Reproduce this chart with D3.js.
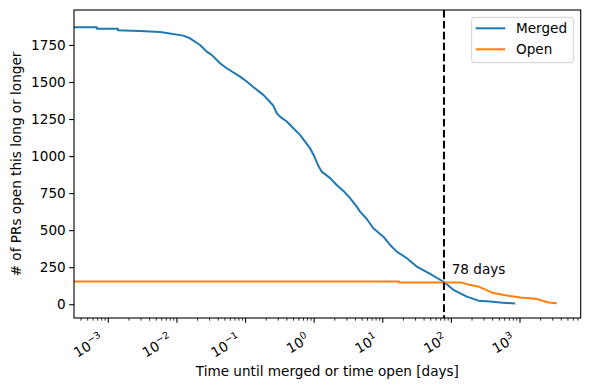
<!DOCTYPE html>
<html>
<head>
<meta charset="utf-8">
<script src="https://cdn.jsdelivr.net/npm/d3@7"></script>
<style>
  body { margin: 0; background: #fff; }
  text { font-family: "DejaVu Sans", sans-serif; fill: #000; }
</style>
</head>
<body>
<script>
// PRs still open after t days

// merged PRs: time until merged (days) and count still open
const mergedDays = [0.0003, 0.00068, 0.00068, 0.00138, 0.00138, 0.0029, 0.00568, 0.0124, 0.0155, 0.0217,
  0.0272, 0.0321, 0.0425, 0.0532, 0.0832, 0.104, 0.146, 0.182, 0.228, 0.254,
  0.285, 0.318, 0.399, 0.498, 0.622, 0.736, 0.871, 1.0, 1.15, 1.29,
  1.71, 2.13, 2.67, 3.34, 4.18, 4.67, 5.85, 7.29, 10.2, 12.8,
  16.0, 22.4, 31.3, 49.0, 78, 107, 168, 248, 366, 513, 849]
const mergedCount = [1870, 1870, 1860, 1860, 1850, 1845, 1838, 1813, 1795, 1750,
  1705, 1683, 1627, 1593, 1536, 1503, 1447, 1413, 1365, 1340,
  1289, 1266, 1233, 1188, 1143, 1098, 1053, 1000, 935, 895,
  851, 805, 765, 716, 659, 625, 575, 513, 456, 400,
  355, 311, 254, 205, 150, 97, 51, 24, 18, 11, 5]

// open PRs: time open so far (days)
const openDays = [0.0003, 17.3, 17.3, 142, 187, 248, 328, 409, 513, 717, 1003, 1403, 1855, 2193, 2594, 3436]
const openCount = [153, 153, 146, 146, 130, 119, 95, 75, 68, 55, 46, 40, 33, 22, 12, 6]

const cutoffDays = 78
const cutoffLabel = "78 days"
const labelAt = [101, 205]

const yTicks = [0, 250, 500, 750, 1000, 1250, 1500, 1750]
const xDecades = [-3, -2, -1, 0, 1, 2, 3]

const W = 590, H = 390
const margin = { top: 10, right: 9.3, bottom: 72, left: 74 }
const width = W - margin.left - margin.right
const height = H - margin.top - margin.bottom

const x = d3.scaleLog().domain([Math.pow(10, -3.5), Math.pow(10, 3.885)]).range([0, width])
const y = d3.scaleLinear().domain([-93, 1986]).range([height, 0])

const svg = d3.select("body").append("svg")
    .attr("width", W)
    .attr("height", H)

const g = svg.append("g")
    .attr("transform", "translate(" + margin.left + "," + margin.top + ")")

g.append("clipPath").attr("id", "clip")
  .append("rect").attr("width", width).attr("height", height)

const line = d3.line()
    .x(d => x(d[0]))
    .y(d => y(d[1]))

const merged = d3.zip(mergedDays, mergedCount)
const open = d3.zip(openDays, openCount)

const plot = g.append("g").attr("clip-path", "url(#clip)")

plot.append("path")
    .datum(merged)
    .attr("d", line)
    .attr("fill", "none")
    .attr("stroke", "#1f77b4")
    .attr("stroke-width", 2)
    .attr("stroke-linejoin", "round")

plot.append("path")
    .datum(open)
    .attr("d", line)
    .attr("fill", "none")
    .attr("stroke", "#ff7f0e")
    .attr("stroke-width", 2)
    .attr("stroke-linejoin", "round")

plot.append("line")
    .attr("x1", x(cutoffDays)).attr("x2", x(cutoffDays))
    .attr("y1", 0).attr("y2", height)
    .attr("stroke", "#000")
    .attr("stroke-width", 2)
    .attr("stroke-dasharray", "7.6,3.3")

g.append("text")
    .attr("x", x(labelAt[0]))
    .attr("y", y(labelAt[1]))
    .attr("font-size", "13.6px")
    .text(cutoffLabel)

// y axis
const yAxis = g.append("g")
    .call(d3.axisLeft(y).tickValues(yTicks).tickSize(4.8).tickPadding(3.5).tickFormat(d3.format("d")))
yAxis.select(".domain").remove()
yAxis.selectAll("line").attr("stroke-width", 1.1)
yAxis.selectAll("text").attr("font-size", "13.6px").attr("font-family", "DejaVu Sans")

// x axis, major + minor log ticks
const minor = []
for (let e = -4; e <= 3; e++) {
  for (let m = 2; m <= 9; m++) {
    const v = m * Math.pow(10, e)
    if (v >= x.domain()[0] && v <= x.domain()[1]) minor.push(v)
  }
}
const xAxis = g.append("g").attr("transform", "translate(0," + height + ")")
xAxis.selectAll(".major").data(xDecades).enter().append("line")
    .attr("x1", d => x(Math.pow(10, d))).attr("x2", d => x(Math.pow(10, d)))
    .attr("y1", 0).attr("y2", 4.8)
    .attr("stroke", "#000").attr("stroke-width", 1.1)
xAxis.selectAll(".minor").data(minor).enter().append("line")
    .attr("x1", d => x(d)).attr("x2", d => x(d))
    .attr("y1", 0).attr("y2", 2.7)
    .attr("stroke", "#000").attr("stroke-width", 0.8)

const lab = xAxis.selectAll(".lab").data(xDecades).enter().append("text")
    .attr("text-anchor", "end")
    .attr("font-size", "13.6px")
    .attr("transform", d => "translate(" + (x(Math.pow(10, d)) - 4) + ",24) rotate(-30)")
lab.append("tspan").text("10")
lab.append("tspan").attr("font-size", "9.5px").attr("dy", "-6")
    .text(d => d < 0 ? "\u2212" + (-d) : String(d))

// frame
g.append("rect")
    .attr("width", width).attr("height", height)
    .attr("fill", "none").attr("stroke", "#000").attr("stroke-width", 1.1)

// axis labels
svg.append("text")
    .attr("x", margin.left + width / 2)
    .attr("y", 376)
    .attr("text-anchor", "middle")
    .attr("font-size", "13.6px")
    .text("Time until merged or time open [days]")

svg.append("text")
    .attr("transform", "translate(21," + (margin.top + height / 2) + ") rotate(-90)")
    .attr("text-anchor", "middle")
    .attr("font-size", "13.6px")
    .text("# of PRs open this long or longer")

// legend
const legend = svg.append("g").attr("transform", "translate(471.7,17.3)")
legend.append("rect")
    .attr("width", 101.6).attr("height", 45.4)
    .attr("rx", 2.5)
    .attr("fill", "#fff").attr("fill-opacity", 0.8)
    .attr("stroke", "#d0d0d0")
const items = [["Merged", "#1f77b4"], ["Open", "#ff7f0e"]]
items.forEach((it, i) => {
  const cy = 11 + i * 21
  legend.append("line")
      .attr("x1", 4).attr("x2", 33.5).attr("y1", cy).attr("y2", cy)
      .attr("stroke", it[1]).attr("stroke-width", 2)
  legend.append("text")
      .attr("x", 44.3).attr("y", cy + 5)
      .attr("font-size", "13.6px")
      .text(it[0])
})
</script>
</body>
</html>
